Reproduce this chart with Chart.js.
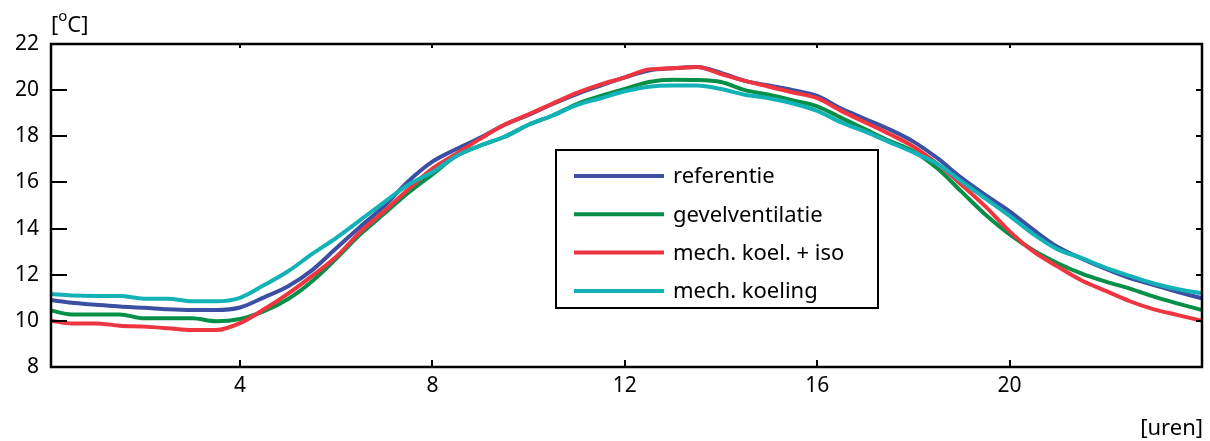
<!DOCTYPE html>
<html>
<head>
<meta charset="utf-8">
<script src="https://cdn.jsdelivr.net/npm/chart.js@4/dist/chart.umd.min.js"></script>
<style>
  html, body { margin: 0; padding: 0; background: #fff; }
  #wrap { width: 1210px; height: 441px; }
</style>
</head>
<body>
<div id="wrap"><canvas id="chart" width="1210" height="441"></canvas></div>
<script>
// uren (tijdstip van de dag)
const uren = [0.07, 0.5, 1, 1.5, 2, 2.5, 3, 3.5, 4, 4.5, 5, 5.5, 6, 6.5, 7, 7.5, 8, 8.5, 9, 9.5,
  10, 10.5, 11, 11.5, 12, 12.5, 13, 13.5, 14, 14.5, 15, 15.5, 16, 16.5, 17, 17.5, 18, 18.5, 19, 19.5,
  20, 20.5, 21, 21.5, 22, 22.5, 23, 23.5, 24];

// temperaturen per variant [°C]
const referentie = [10.9, 10.78, 10.7, 10.62, 10.57, 10.5, 10.47, 10.47, 10.58, 11.02, 11.5, 12.2, 13.15, 14.08, 14.98, 16.05, 16.9, 17.45, 17.95, 18.5,
  18.93, 19.4, 19.83, 20.2, 20.55, 20.85, 20.95, 21.0, 20.75, 20.4, 20.2, 20.0, 19.75, 19.2, 18.75, 18.3, 17.77, 17.05, 16.2, 15.45,
  14.75, 13.94, 13.2, 12.7, 12.25, 11.85, 11.55, 11.25, 10.98];
const gevelventilatie = [10.45, 10.28, 10.28, 10.28, 10.11, 10.11, 10.11, 9.98, 10.08, 10.42, 10.95, 11.72, 12.7, 13.75, 14.65, 15.55, 16.35, 17.15, 17.6, 17.98,
  18.5, 18.9, 19.4, 19.75, 20.05, 20.35, 20.45, 20.44, 20.35, 20.0, 19.8, 19.55, 19.3, 18.8, 18.3, 17.8, 17.35, 16.6, 15.6, 14.6,
  13.75, 13.05, 12.5, 12.05, 11.7, 11.4, 11.05, 10.75, 10.47];
const mechKoelIso = [10.0, 9.89, 9.89, 9.79, 9.75, 9.68, 9.6, 9.6, 9.9, 10.5, 11.18, 11.95, 12.78, 13.85, 14.75, 15.7, 16.6, 17.25, 17.9, 18.5,
  18.95, 19.42, 19.88, 20.25, 20.55, 20.9, 20.95, 21.0, 20.7, 20.4, 20.15, 19.9, 19.65, 19.1, 18.6, 18.1, 17.55, 16.8, 15.9, 14.95,
  13.88, 13.0, 12.35, 11.75, 11.3, 10.85, 10.5, 10.25, 10.0];
const mechKoeling = [11.16, 11.1, 11.08, 11.08, 10.96, 10.96, 10.85, 10.85, 11.0, 11.55, 12.15, 12.9, 13.6, 14.37, 15.15, 15.9, 16.45, 17.15, 17.6, 17.98,
  18.5, 18.9, 19.35, 19.65, 19.95, 20.15, 20.2, 20.2, 20.05, 19.8, 19.65, 19.42, 19.1, 18.6, 18.2, 17.75, 17.3, 16.8, 16.05, 15.3,
  14.55, 13.75, 13.1, 12.72, 12.3, 11.95, 11.62, 11.37, 11.19];

const labels = ['referentie', 'gevelventilatie', 'mech. koel. + iso', 'mech. koeling'];
const kleuren = ['#3b50a3', '#068f47', '#ee3540', '#12b2b7'];
const xTicks = [4, 8, 12, 16, 20];
const yTicks = [8, 10, 12, 14, 16, 18, 20, 22];

const FONT = '"Noto Sans", sans-serif';

function punten(waarden) {
  return uren.map((u, i) => ({ x: u, y: waarden[i] }));
}

// kader, tickjes naar binnen, eenheden en legenda
const kaderPlugin = {
  id: 'kader',
  afterDatasetsDraw(chart) {
    const ctx = chart.ctx;
    const a = chart.chartArea;
    const xs = chart.scales.x;
    const ys = chart.scales.y;
    ctx.save();
    ctx.strokeStyle = '#000';
    ctx.lineWidth = 2.5;
    ctx.strokeRect(a.left, a.top, a.right - a.left, a.bottom - a.top);

    ctx.lineWidth = 2;
    ctx.beginPath();
    xTicks.forEach(t => {
      const px = Math.round(xs.getPixelForValue(t));
      ctx.moveTo(px, a.bottom); ctx.lineTo(px, a.bottom - 7);
      ctx.moveTo(px, a.top); ctx.lineTo(px, a.top + 4);
    });
    yTicks.forEach(t => {
      const py = Math.round(ys.getPixelForValue(t));
      ctx.moveTo(a.left, py); ctx.lineTo(a.left + 16, py);
      ctx.moveTo(a.right, py); ctx.lineTo(a.right - 6, py);
    });
    ctx.stroke();

    // eenheden
    ctx.fillStyle = '#000';
    ctx.textBaseline = 'alphabetic';
    ctx.textAlign = 'left';
    ctx.font = '22px ' + FONT;
    let x = 51;
    ctx.fillText('[', x, 32);
    x += ctx.measureText('[').width;
    ctx.font = '15px ' + FONT;
    ctx.fillText('o', x, 21);
    x += ctx.measureText('o').width;
    ctx.font = '22px ' + FONT;
    ctx.fillText('C]', x, 32);
    ctx.textAlign = 'right';
    ctx.fillText('[uren]', 1203, 435);

    // legenda
    const lx = 556, ly = 150, lw = 322, lh = 158;
    ctx.fillStyle = '#fff';
    ctx.fillRect(lx, ly, lw, lh);
    ctx.lineWidth = 2;
    ctx.strokeRect(lx, ly, lw, lh);
    ctx.textAlign = 'left';
    ctx.textBaseline = 'middle';
    ctx.font = '22px ' + FONT;
    chart.data.datasets.forEach((ds, i) => {
      const ry = 176 + i * 38.3;
      ctx.strokeStyle = ds.borderColor;
      ctx.lineWidth = 4;
      ctx.beginPath();
      ctx.moveTo(574, ry); ctx.lineTo(664, ry);
      ctx.stroke();
      ctx.fillStyle = '#000';
      ctx.fillText(ds.label, 673, ry + 1);
    });
    ctx.restore();
  }
};

const datasets = [referentie, gevelventilatie, mechKoelIso, mechKoeling].map((reeks, i) => ({
  label: labels[i],
  data: punten(reeks),
  borderColor: kleuren[i],
  borderWidth: 4,
  pointRadius: 0,
  cubicInterpolationMode: 'monotone',
  fill: false,
  order: 4 - i
}));

new Chart(document.getElementById('chart'), {
  type: 'line',
  data: { datasets: datasets },
  options: {
    responsive: false,
    animation: false,
    layout: { padding: { top: 44, right: 8, left: 0, bottom: 0 } },
    plugins: {
      legend: { display: false },
      tooltip: { enabled: false }
    },
    scales: {
      x: {
        type: 'linear',
        min: 0.07,
        max: 24,
        grid: { display: false, drawTicks: false },
        border: { display: false },
        afterBuildTicks: s => { s.ticks = xTicks.map(v => ({ value: v })); },
        afterFit: s => { s.height = 74; },
        ticks: {
          color: '#000',
          padding: 6,
          font: { family: FONT, size: 21 },
          maxRotation: 0
        }
      },
      y: {
        min: 8,
        max: 22,
        grid: { display: false, drawTicks: false },
        border: { display: false },
        afterBuildTicks: s => { s.ticks = yTicks.map(v => ({ value: v })); },
        afterFit: s => { s.width = 51; },
        ticks: {
          color: '#000',
          padding: 12,
          font: { family: FONT, size: 21 }
        }
      }
    }
  },
  plugins: [kaderPlugin]
});
</script>
</body>
</html>
